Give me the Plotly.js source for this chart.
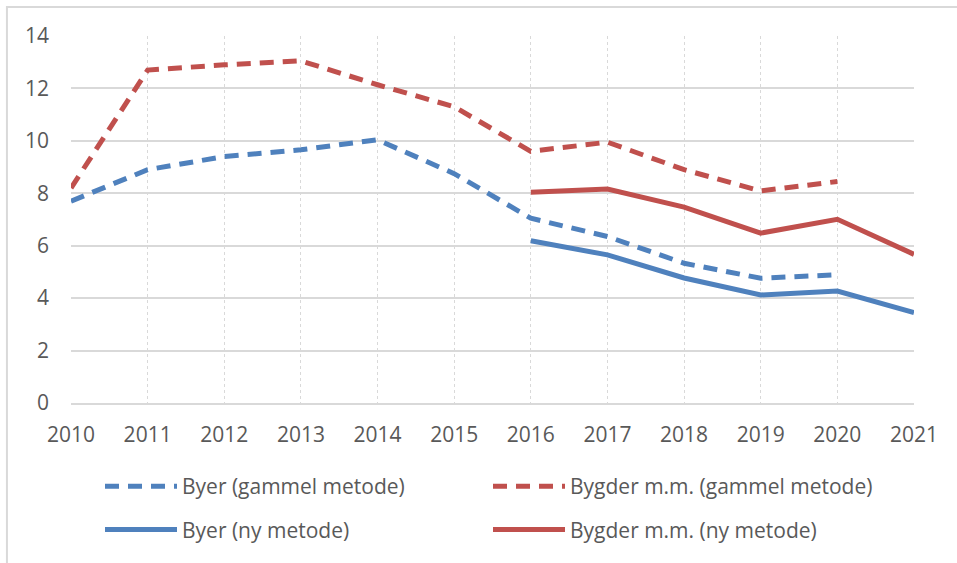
<!DOCTYPE html>
<html>
<head>
<meta charset="utf-8">
<script src="https://cdn.plot.ly/plotly-3.0.1.min.js"></script>
<style>
  html, body { margin: 0; padding: 0; background: #fff; }
  #chart { width: 957px; height: 563px; }
</style>
</head>
<body>
<div id="chart"></div>
<script>
var years = [2010, 2011, 2012, 2013, 2014, 2015, 2016, 2017, 2018, 2019, 2020, 2021];

// old method, 2010-2020
var byerGammel   = [7.7, 8.9, 9.4, 9.66, 10.04, 8.75, 7.05, 6.35, 5.33, 4.76, 4.89, null];
var bygderGammel = [8.2, 12.7, 12.9, 13.05, 12.14, 11.3, 9.6, 9.95, 8.9, 8.09, 8.45, null];
// new method, 2016-2021
var byerNy   = [null, null, null, null, null, null, 6.19, 5.65, 4.77, 4.12, 4.27, 3.45];
var bygderNy = [null, null, null, null, null, null, 8.04, 8.16, 7.47, 6.48, 7.01, 5.67];

var blue = '#4F81BD';
var red = '#C0504D';

var data = [{
    x: years,
    y: byerGammel,
    mode: 'lines',
    name: 'Byer (gammel metode)',
    legend: 'legend',
    legendgroup: 'a',
    line: {color: blue, width: 5, dash: '14px,9px'}
},
    {
        x: years,
        y: bygderGammel,
        mode: 'lines',
        name: 'Bygder m.m. (gammel metode)',
        legend: 'legend2',
        legendgroup: 'b',
        line: {color: red, width: 5, dash: '14px,9px'}
    },
    {
        x: years,
        y: byerNy,
        mode: 'lines',
        name: 'Byer (ny metode)',
        legend: 'legend',
        legendgroup: 'c',
        line: {color: blue, width: 5}
    },
    {
        x: years,
        y: bygderNy,
        mode: 'lines',
        name: 'Bygder m.m. (ny metode)',
        legend: 'legend2',
        legendgroup: 'd',
        line: {color: red, width: 5}
    }];

// two legend columns, placed by pixel
function legendAt(px) {
    return {
        xref: 'container', yref: 'container',
        x: px / 957,
        xanchor: 'left',
        y: 1 - 466 / 563,
        yanchor: 'top',
        itemwidth: 72,
        tracegroupgap: 13,
        bgcolor: 'rgba(0,0,0,0)',
        font: {size: 21, color: '#595959'}
    };
}

var layout = {
    width: 957,
    height: 563,
    margin: {l: 71, r: 43, t: 36, b: 160, autoexpand: false},
    paper_bgcolor: '#fff',
    plot_bgcolor: '#fff',
    font: {family: 'Open Sans, Liberation Sans, sans-serif', size: 21, color: '#595959'},
    showlegend: true,
    legend: legendAt(100),
    legend2: legendAt(488),
    xaxis: {
        range: [2010, 2021],
        tickvals: years,
        ticktext: years.map(String),
        showgrid: true,
        gridcolor: '#D9D9D9',
        griddash: 'dot',
        gridwidth: 1,
        zeroline: false,
        showline: true,
        linecolor: '#D9D9D9',
        linewidth: 2,
        ticks: '',
        ticklabelstandoff: 12,
        tickfont: {size: 21, color: '#595959'}
    },
    yaxis: {
        range: [0, 14],
        dtick: 2,
        showgrid: true,
        gridcolor: '#D9D9D9',
        gridwidth: 2,
        zeroline: false,
        showline: false,
        ticks: '',
        ticklabelstandoff: 21,
        tickfont: {size: 21, color: '#595959'}
    },
    shapes: [{
        type: 'rect',
        xref: 'paper', yref: 'paper',
        x0: -0.076, x1: 1.2,
        y0: -0.6, y1: 1.079,
        line: {color: '#D9D9D9', width: 2},
        layer: 'below'
    }]
};

Plotly.newPlot('chart', data, layout, {displayModeBar: false});
</script>
</body>
</html>
